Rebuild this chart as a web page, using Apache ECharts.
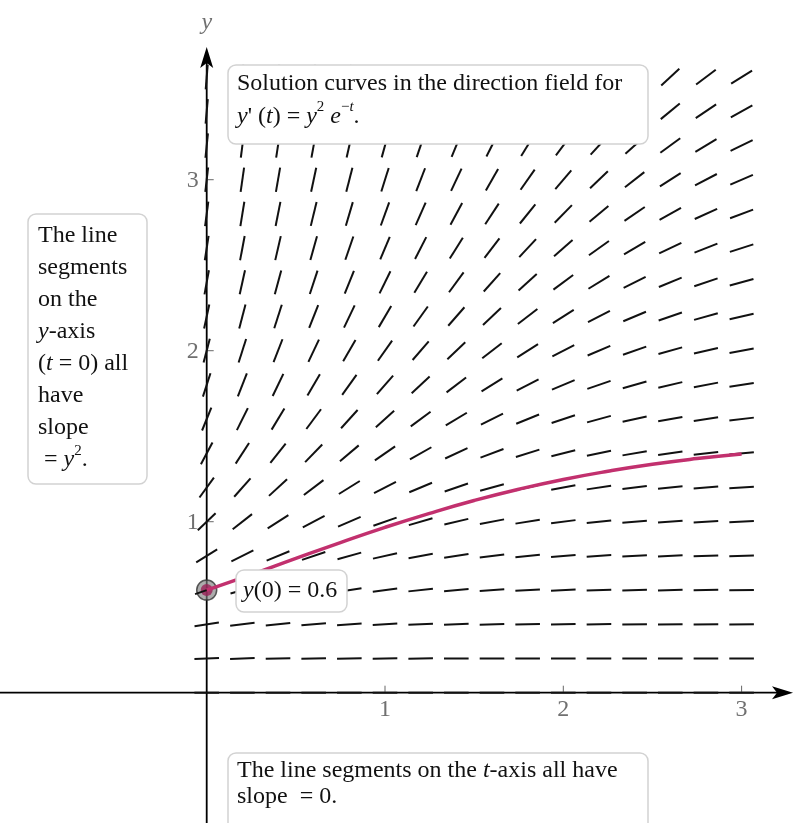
<!DOCTYPE html>
<html>
<head>
<meta charset="utf-8">
<script src="https://cdn.jsdelivr.net/npm/echarts@6/dist/echarts.min.js"></script>
<style>
html,body{margin:0;padding:0;background:#fff;}
#c{width:808px;height:823px;}
</style>
</head>
<body>
<div id="c"></div>
<script>
// ---- data ----
const tGrid = [0, 0.2, 0.4, 0.6, 0.8, 1.0, 1.2, 1.4, 1.6, 1.8, 2.0, 2.2, 2.4, 2.6, 2.8, 3.0];
const yGrid = [0, 0.2, 0.4, 0.6, 0.8, 1.0, 1.2, 1.4, 1.6, 1.8, 2.0, 2.2, 2.4, 2.6, 2.8, 3.0, 3.2, 3.4, 3.6];

// slope of the segment at each grid point, one array per row (y value), columns follow tGrid
const slopesY00 = [0,0,0,0,0,0,0,0,0,0,0,0,0,0,0,0];
const slopesY02 = [0.04,0.033,0.027,0.022,0.018,0.015,0.012,0.01,0.008,0.007,0.005,0.004,0.004,0.003,0.002,0.002];
const slopesY04 = [0.16,0.131,0.107,0.088,0.072,0.059,0.048,0.039,0.032,0.026,0.022,0.018,0.015,0.012,0.01,0.008];
const slopesY06 = [0.36,0.295,0.241,0.198,0.162,0.132,0.108,0.089,0.073,0.06,0.049,0.04,0.033,0.027,0.022,0.018];
const slopesY08 = [0.64,0.524,0.429,0.351,0.288,0.235,0.193,0.158,0.129,0.106,0.087,0.071,0.058,0.048,0.039,0.032];
const slopesY10 = [1,0.819,0.67,0.549,0.449,0.368,0.301,0.247,0.202,0.165,0.135,0.111,0.091,0.074,0.061,0.05];
const slopesY12 = [1.44,1.179,0.965,0.79,0.647,0.53,0.434,0.355,0.291,0.238,0.195,0.16,0.131,0.107,0.088,0.072];
const slopesY14 = [1.96,1.605,1.314,1.076,0.881,0.721,0.59,0.483,0.396,0.324,0.265,0.217,0.178,0.146,0.119,0.098];
const slopesY16 = [2.56,2.096,1.716,1.405,1.15,0.942,0.771,0.631,0.517,0.423,0.346,0.284,0.232,0.19,0.156,0.127];
const slopesY18 = [3.24,2.653,2.172,1.778,1.456,1.192,0.976,0.799,0.654,0.536,0.438,0.359,0.294,0.241,0.197,0.161];
const slopesY20 = [4,3.275,2.681,2.195,1.797,1.472,1.205,0.986,0.808,0.661,0.541,0.443,0.363,0.297,0.243,0.199];
const slopesY22 = [4.84,3.963,3.244,2.656,2.175,1.781,1.458,1.194,0.977,0.8,0.655,0.536,0.439,0.36,0.294,0.241];
const slopesY24 = [5.76,4.716,3.861,3.161,2.588,2.119,1.735,1.42,1.163,0.952,0.779,0.638,0.522,0.428,0.35,0.287];
const slopesY26 = [6.76,5.534,4.531,3.71,3.037,2.487,2.036,1.667,1.365,1.117,0.915,0.749,0.613,0.502,0.411,0.337];
const slopesY28 = [7.84,6.419,5.255,4.303,3.523,2.884,2.361,1.933,1.583,1.296,1.061,0.869,0.711,0.583,0.477,0.39];
const slopesY30 = [9,7.368,6.033,4.939,4.044,3.311,2.711,2.219,1.817,1.488,1.218,0.997,0.816,0.669,0.547,0.448];
const slopesY32 = [10.24,8.383,6.864,5.62,4.601,3.767,3.084,2.525,2.067,1.693,1.385,1.135,0.929,0.761,0.623,0.51];
const slopesY34 = [11.56,9.464,7.749,6.344,5.194,4.253,3.482,2.851,2.334,1.911,1.564,1.281,1.048,0.859,0.703,0.576];
const slopesY36 = [12.96,10.61,8.687,7.112,5.823,4.768,3.904,3.196,2.617,2.142,1.754,1.436,1.175,0.963,0.788,0.645];

// solution curve through y(0) = 0.6
const curveT = [0, 0.25, 0.5, 0.75, 1.0, 1.25, 1.5, 1.75, 2.0, 2.25, 2.5, 2.75, 3.0];
const curveY = [0.6, 0.69, 0.785, 0.878, 0.967, 1.049, 1.124, 1.19, 1.247, 1.295, 1.336, 1.369, 1.396];

const initialPoint = [0, 0.6];
const xTickValues = [1, 2, 3];
const yTickValues = [1, 2, 3];
const xTickLabels = ['1', '2', '3'];
const yTickLabels = ['1', '2', '3'];
// visible axis extents (data units), arrow tips at the far ends
const tAxisExtent = [-1.1593, 3.2883];
const yAxisExtent = [-0.762, 3.776];

// ---- build ----
const slopeRows = [slopesY00, slopesY02, slopesY04, slopesY06, slopesY08, slopesY10, slopesY12,
  slopesY14, slopesY16, slopesY18, slopesY20, slopesY22, slopesY24, slopesY26, slopesY28,
  slopesY30, slopesY32, slopesY34, slopesY36];

const fieldData = [];
yGrid.forEach((y, r) => {
  tGrid.forEach((t, c) => {
    fieldData.push([t, y, slopeRows[r][c]]);
  });
});
const curveData = curveT.map((t, i) => [t, curveY[i]]);
const axisData = [
  [tAxisExtent[0], 0, tAxisExtent[1], 0],
  [0, yAxisExtent[0], 0, yAxisExtent[1]]
];
const tickData = xTickValues.map((v, i) => [v, 0, 0, i]).concat(yTickValues.map((v, i) => [0, v, 1, i]));

const SERIF = '"Liberation Serif", "DejaVu Serif", serif';
const GREY = '#707070';
const richStyles = {
  i: { fontStyle: 'italic', fontFamily: SERIF, fontSize: 24, fill: '#111' },
  s: { fontFamily: SERIF, fontSize: 15, verticalAlign: 'top', fill: '#111' },
  si: { fontFamily: SERIF, fontSize: 15, fontStyle: 'italic', verticalAlign: 'top', fill: '#111' }
};

function box(x, y, w, h, textX, textY, text, lineHeight) {
  return {
    type: 'group',
    z: 100,
    children: [
      {
        type: 'rect',
        z: 100,
        shape: { x: x, y: y, width: w, height: h, r: 8 },
        style: { fill: '#fff', stroke: '#d2d2d2', lineWidth: 1.5 }
      },
      {
        type: 'text',
        z: 101,
        x: textX,
        y: textY,
        style: {
          text: text,
          fontFamily: SERIF,
          fontSize: 24,
          fill: '#111',
          lineHeight: lineHeight,
          verticalAlign: 'top',
          rich: Object.assign({}, richStyles, {
            i: Object.assign({}, richStyles.i, { lineHeight: lineHeight })
          })
        }
      }
    ]
  };
}

function arrowHead(tip, dirX, dirY) {
  const L = 21, W = 6.5, N = 5;
  const px = -dirY, py = dirX;
  const bx = tip[0] - dirX * L, by = tip[1] - dirY * L;
  const nx = tip[0] - dirX * (L - N), ny = tip[1] - dirY * (L - N);
  return {
    type: 'polygon',
    shape: { points: [[tip[0], tip[1]], [bx + px * W, by + py * W], [nx, ny], [bx - px * W, by - py * W]] },
    style: { fill: '#000' }
  };
}

const chart = echarts.init(document.getElementById('c'), null, { renderer: 'canvas' });
chart.setOption({
  animation: false,
  backgroundColor: '#fff',
  grid: { left: 0, right: 0, top: 0, bottom: 0, containLabel: false, outerBoundsMode: 'none' },
  xAxis: {
    type: 'value', min: -1.1593, max: 3.3724, show: false,
    axisLine: { show: false }, axisTick: { show: false }, axisLabel: { show: false }, splitLine: { show: false }
  },
  yAxis: {
    type: 'value', min: -0.762, max: 4.051, show: false,
    axisLine: { show: false }, axisTick: { show: false }, axisLabel: { show: false }, splitLine: { show: false }
  },
  series: [
    {
      // axis lines with arrow heads
      type: 'custom',
      z: 1,
      silent: true,
      data: axisData,
      encode: { x: [0, 2], y: [1, 3] },
      renderItem: function (params, api) {
        const a = api.coord([api.value(0), api.value(1)]);
        const b = api.coord([api.value(2), api.value(3)]);
        let dx = b[0] - a[0], dy = b[1] - a[1];
        const len = Math.hypot(dx, dy);
        dx /= len; dy /= len;
        const children = [
          {
            type: 'line',
            shape: { x1: a[0], y1: a[1], x2: b[0] - dx * 10, y2: b[1] - dy * 10 },
            style: { stroke: '#000', lineWidth: 1.8 }
          },
          arrowHead(b, dx, dy)
        ];
        if (params.dataIndex === 1) {
          children.push({
            type: 'text',
            x: b[0],
            y: b[1] - 24,
            style: { text: 'y', fontFamily: SERIF, fontStyle: 'italic', fontSize: 24, fill: GREY, align: 'center', verticalAlign: 'middle' }
          });
        }
        return { type: 'group', children: children };
      }
    },
    {
      // tick marks and tick labels
      type: 'custom',
      z: 1,
      silent: true,
      data: tickData,
      encode: { x: 0, y: 1 },
      renderItem: function (params, api) {
        const p = api.coord([api.value(0), api.value(1)]);
        const isY = api.value(2) === 1;
        const idx = api.value(3);
        if (!isY) {
          return {
            type: 'group', children: [
              { type: 'line', shape: { x1: p[0], y1: p[1], x2: p[0], y2: p[1] - 7 }, style: { stroke: '#666', lineWidth: 1 } },
              { type: 'text', x: p[0], y: p[1] + 17, style: { text: xTickLabels[idx], fontFamily: SERIF, fontSize: 24, fill: GREY, align: 'center', verticalAlign: 'middle' } }
            ]
          };
        }
        return {
          type: 'group', children: [
            { type: 'line', shape: { x1: p[0], y1: p[1], x2: p[0] + 7, y2: p[1] }, style: { stroke: '#666', lineWidth: 1 } },
            { type: 'text', x: p[0] - 8, y: p[1] + 1, style: { text: yTickLabels[idx], fontFamily: SERIF, fontSize: 24, fill: GREY, align: 'right', verticalAlign: 'middle' } }
          ]
        };
      }
    },
    {
      type: 'scatter',
      z: 2,
      data: [initialPoint],
      symbol: 'circle',
      symbolSize: 20,
      itemStyle: { color: 'rgba(125,125,125,0.8)', borderColor: '#333', borderWidth: 1.5 },
      silent: true
    },
    {
      type: 'scatter',
      z: 3,
      data: [initialPoint],
      symbol: 'circle',
      symbolSize: 12,
      itemStyle: { color: '#9a2058' },
      silent: true
    },
    {
      type: 'custom',
      z: 4,
      data: fieldData,
      encode: { x: 0, y: 1 },
      silent: true,
      renderItem: function (params, api) {
        const t = api.value(0), y = api.value(1), s = api.value(2);
        const p = api.coord([t, y]);
        const q = api.coord([t + 0.1, y + 0.1 * s]);
        let dx = q[0] - p[0], dy = q[1] - p[1];
        const len = Math.hypot(dx, dy) || 1;
        dx /= len; dy /= len;
        const h = 12.3;
        return {
          type: 'line',
          shape: { x1: p[0] - dx * h, y1: p[1] - dy * h, x2: p[0] + dx * h, y2: p[1] + dy * h },
          style: { stroke: '#111', lineWidth: 2 }
        };
      }
    },
    {
      type: 'line',
      z: 5,
      data: curveData,
      smooth: true,
      showSymbol: false,
      silent: true,
      lineStyle: { color: '#c2306e', width: 3.5 }
    }
  ],
  graphic: [
    box(228, 65, 420, 79, 237, 67,
      'Solution curves in the direction field for\n{i|y}\' ({i|t}) = {i|y}{s|2} {i|e}{s|\u2212}{si|t}.', 33),
    box(28, 214, 119, 270, 38, 220,
      'The line\nsegments\non the\n{i|y}-axis\n({i|t} = 0) all\nhave\nslope\n = {i|y}{s|2}.', 32),
    box(228, 753, 420, 100, 237, 758,
      'The line segments on the {i|t}-axis all have\nslope  = 0.', 26),
    box(236, 570, 111, 42, 243, 578,
      '{i|y}(0) = 0.6', 26)
  ]
});
</script>
</body>
</html>
